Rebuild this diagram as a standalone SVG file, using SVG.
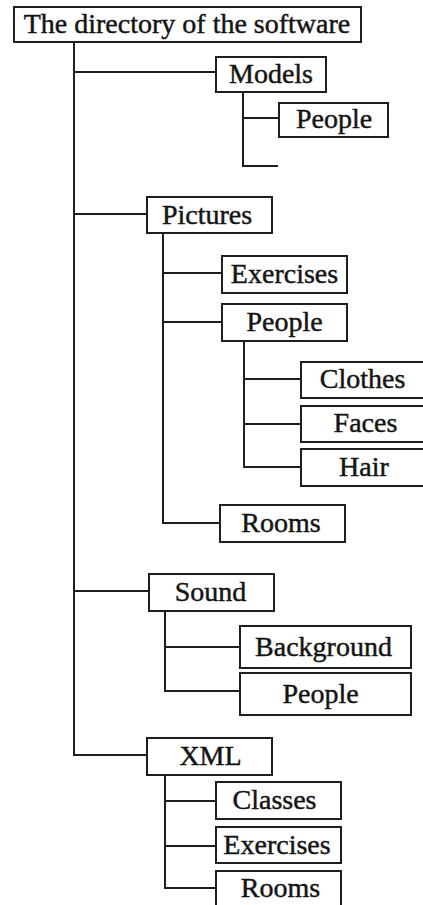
<svg xmlns="http://www.w3.org/2000/svg" width="423" height="905" viewBox="0 0 423 905">
<style>
.box{fill:#fff;stroke:#1e1e1e;stroke-width:2}
.lbl{font-family:"Liberation Serif","Times New Roman",serif;font-size:28px;fill:#141414;stroke:#141414;stroke-width:0.45;text-anchor:middle}
.con{fill:none;stroke:#1e1e1e;stroke-width:2}
</style>
<rect width="423" height="905" fill="#fff"/>
<g id="connectors" class="con">
<path d="M74 42V755H147"/>
<path d="M74 72H216"/>
<path d="M74 214H147"/>
<path d="M74 591H149"/>
<path d="M243 92V166H278"/>
<path d="M243 118H279"/>
<path d="M163 233V523H220"/>
<path d="M163 273H222"/>
<path d="M163 322H222"/>
<path d="M244 341V467H301"/>
<path d="M244 379H301"/>
<path d="M244 424H301"/>
<path d="M165 611V691H240"/>
<path d="M165 647H240"/>
<path d="M165 775V888H216"/>
<path d="M165 801H216"/>
<path d="M165 846H216"/>
</g>
<g id="root"><rect class="box" x="14" y="7" width="347" height="35"/><text class="lbl" x="187" y="33">The directory of the software</text></g>
<g id="models"><rect class="box" x="216" y="57" width="110" height="35"/><text class="lbl" x="271" y="83">Models</text></g>
<g id="models-people"><rect class="box" x="279" y="103" width="109" height="34"/><text class="lbl" x="334" y="128">People</text></g>
<g id="pictures"><rect class="box" x="147" y="197" width="125" height="36"/><text class="lbl" x="207" y="224">Pictures</text></g>
<g id="pictures-exercises"><rect class="box" x="222" y="256" width="125" height="37"/><text class="lbl" x="284.5" y="283">Exercises</text></g>
<g id="pictures-people"><rect class="box" x="222" y="304" width="125" height="37"/><text class="lbl" x="284.5" y="331">People</text></g>
<g id="clothes"><rect class="box" x="301" y="362" width="130" height="36"/><text class="lbl" x="362.5" y="388">Clothes</text></g>
<g id="faces"><rect class="box" x="301" y="406" width="130" height="36"/><text class="lbl" x="365.5" y="432">Faces</text></g>
<g id="hair"><rect class="box" x="301" y="449" width="130" height="37"/><text class="lbl" x="364" y="476">Hair</text></g>
<g id="pictures-rooms"><rect class="box" x="220" y="505" width="125" height="37"/><text class="lbl" x="281" y="532">Rooms</text></g>
<g id="sound"><rect class="box" x="149" y="574" width="125" height="37"/><text class="lbl" x="210.5" y="601">Sound</text></g>
<g id="background"><rect class="box" x="240" y="626" width="171" height="42"/><text class="lbl" x="323.5" y="656">Background</text></g>
<g id="sound-people"><rect class="box" x="240" y="673" width="171" height="42"/><text class="lbl" x="320.5" y="703">People</text></g>
<g id="xml"><rect class="box" x="147" y="738" width="125" height="37"/><text class="lbl" x="210.5" y="765">XML</text></g>
<g id="classes"><rect class="box" x="216" y="782" width="125" height="37"/><text class="lbl" x="274.5" y="809">Classes</text></g>
<g id="xml-exercises"><rect class="box" x="216" y="827" width="125" height="36"/><text class="lbl" x="277" y="853.5">Exercises</text></g>
<g id="xml-rooms"><rect class="box" x="216" y="871" width="125" height="40"/><text class="lbl" x="280.5" y="897">Rooms</text></g>
</svg>
